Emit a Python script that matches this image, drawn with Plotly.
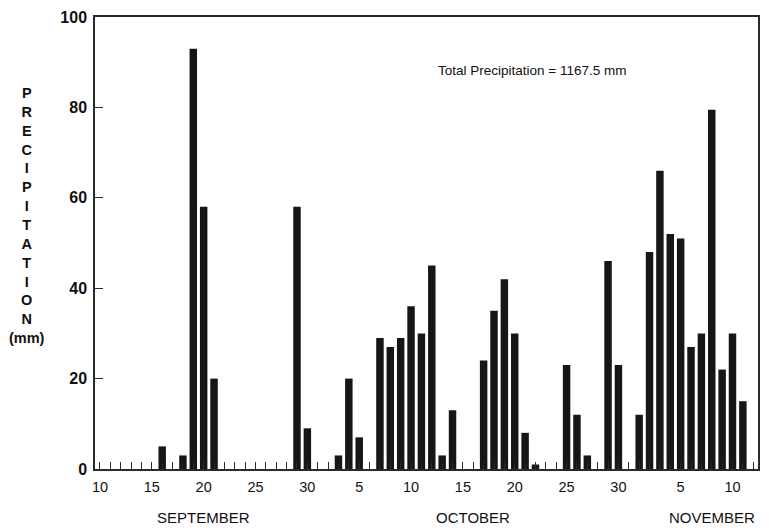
import datetime as dt
import plotly.graph_objects as go

# Daily precipitation (mm), 10 September - 12 November
rain_dates = [
    "09-16", "09-18", "09-19", "09-20", "09-21", "09-29", "09-30",
    "10-03", "10-04", "10-05", "10-07", "10-08", "10-09", "10-10", "10-11",
    "10-12", "10-13", "10-14", "10-17", "10-18", "10-19", "10-20", "10-21",
    "10-22", "10-25", "10-26", "10-27", "10-29", "10-30",
    "11-01", "11-02", "11-03", "11-04", "11-05", "11-06", "11-07", "11-08",
    "11-09", "11-10", "11-11",
]
rain_mm = [
    5, 3, 93, 58, 20, 58, 9,
    3, 20, 7, 29, 27, 29, 36, 30,
    45, 3, 13, 24, 35, 42, 30, 8,
    1, 23, 12, 3, 46, 23,
    12, 48, 66, 52, 51, 27, 30, 79.5,
    22, 30, 15,
]

start_date = "09-10"
end_date = "11-12"
tick_label_dates = ["09-10", "09-15", "09-20", "09-25", "09-30", "10-05",
                    "10-10", "10-15", "10-20", "10-25", "10-30", "11-05", "11-10"]
month_names = ["SEPTEMBER", "OCTOBER", "NOVEMBER"]
month_label_dates = ["09-20", "10-16", "11-08"]
total_text = "Total Precipitation = 1167.5 mm"
y_title = "PRECIPITATION"


def day_index(md):
    """Days elapsed since the start of the record."""
    m, d = (int(v) for v in md.split("-"))
    s_m, s_d = (int(v) for v in start_date.split("-"))
    return (dt.date(2001, m, d) - dt.date(2001, s_m, s_d)).days


x_vals = [day_index(d) for d in rain_dates]
n_days = day_index(end_date)
all_days = list(range(0, n_days + 1))
label_lookup = {day_index(d): str(int(d.split("-")[1])) for d in tick_label_dates}
tick_text = [label_lookup.get(i, "") for i in all_days]

ink = "#161616"
frame = "#2a2a2a"

fig = go.Figure(
    go.Bar(
        x=x_vals,
        y=rain_mm,
        width=0.72,
        marker=dict(color=ink, line=dict(width=0)),
        hoverinfo="x+y",
    )
)

fig.update_layout(
    width=769,
    height=530,
    margin=dict(l=95, r=9, t=13, b=61),
    paper_bgcolor="white",
    plot_bgcolor="white",
    showlegend=False,
    font=dict(family="Liberation Sans, Arial, sans-serif", color="#111"),
)

fig.update_xaxes(
    range=[-0.48, 63.46],
    tickmode="array",
    tickvals=all_days,
    ticktext=tick_text,
    ticks="inside",
    ticklen=7,
    tickwidth=1,
    tickcolor=frame,
    ticklabelstandoff=4,
    tickfont=dict(size=14.5, color="#111"),
    showgrid=False,
    zeroline=False,
    showline=True,
    linecolor=frame,
    linewidth=1.5,
    mirror=True,
)

fig.update_yaxes(
    range=[0, 100],
    tickmode="array",
    tickvals=[0, 20, 40, 60, 80, 100],
    ticks="inside",
    ticklen=8,
    tickwidth=1.2,
    tickcolor=frame,
    ticklabelstandoff=3,
    tickfont=dict(size=16, color="#111", family="Liberation Sans, Arial, sans-serif", weight="bold"),
    showgrid=False,
    zeroline=False,
    showline=True,
    linecolor=frame,
    linewidth=1.5,
    mirror=True,
)

annotations = [
    dict(
        text=total_text,
        xref="paper", yref="paper",
        x=0.515, y=0.882,
        xanchor="left", yanchor="middle",
        showarrow=False,
        font=dict(size=13.5, color="#111"),
    ),
    dict(
        text="<br>".join(list(y_title)) + "<br>(mm)",
        xref="paper", yref="paper",
        x=-0.103, y=0.56,
        xanchor="center", yanchor="middle",
        showarrow=False,
        font=dict(size=14.5, color="#111", weight="bold"),
    ),
]
for name, md in zip(month_names, month_label_dates):
    annotations.append(
        dict(
            text=name,
            xref="x", yref="paper",
            x=day_index(md), y=-0.107,
            xanchor="center", yanchor="middle",
            showarrow=False,
            font=dict(size=15, color="#111"),
        )
    )
fig.update_layout(annotations=annotations)

fig.write_html("out.html")
